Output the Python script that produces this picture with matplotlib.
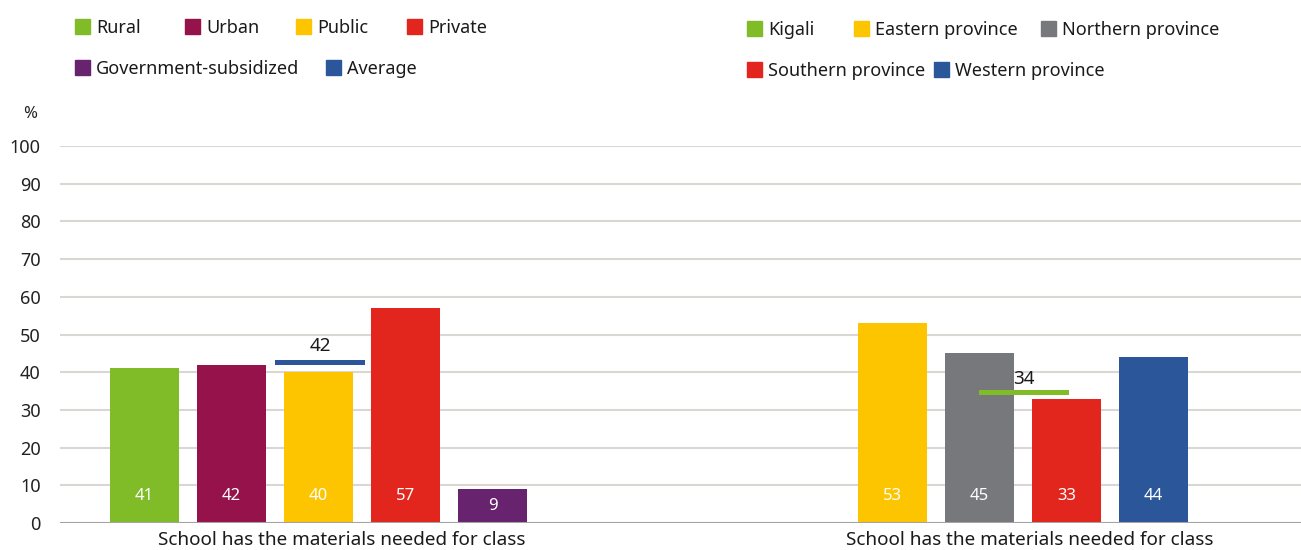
import numpy as np
import matplotlib
matplotlib.use("Agg")
import matplotlib.pyplot as plt
from matplotlib.patches import Rectangle

plt.rcParams['font.family'] = ['Noto Sans', 'DejaVu Sans']

# ---- data ----
left_categories = ['Rural', 'Urban', 'Public', 'Private', 'Government-subsidized']
left_values = [41, 42, 40, 57, 9]
left_average_label = 'Average'
left_average = 42

right_categories = ['Kigali', 'Eastern province', 'Northern province', 'Southern province', 'Western province']
right_values = [np.nan, 53, 45, 33, 44]
right_line_value = 34

group_label = 'School has the materials needed for class'
yticks = [0, 10, 20, 30, 40, 50, 60, 70, 80, 90, 100]

# ---- styles ----
left_colors = ['#80BC28', '#96124A', '#FCC500', '#E2261E', '#68236F']
avg_color = '#2B579A'
right_colors = ['#80BC28', '#FCC500', '#77787B', '#E2261E', '#2B579A']
txt = '#1A1A1A'
fs_leg = 13
fs_lab = 13.6

W, H = 1301, 550
fig = plt.figure(figsize=(W / 100, H / 100), dpi=100)
ax = fig.add_axes([60 / W, (H - 523) / H, (W - 60) / W, (523 - 146) / H])

bw = 69 / 87
left_x = np.arange(5)
right_x = np.arange(5) + 7.6

def bar_labels(xs, vals):
    for x, v in zip(xs, vals):
        if np.isnan(v):
            continue
        y = 7.2 if v > 14 else v / 2
        ax.text(x, y, f'{v:g}', ha='center', va='center', color='white', fontsize=12)

ax.bar(left_x, left_values, width=bw, color=left_colors, zorder=2)
ax.bar(right_x, right_values, width=bw, color=right_colors, zorder=2)
bar_labels(left_x, left_values)
bar_labels(right_x, right_values)

# average / Kigali lines
lw_units = 1.25
lx = 2.02
ax.bar(lx, lw_units, bottom=left_average, width=1.03, color=avg_color, zorder=3)
ax.text(lx, left_average + 5.0, f'{left_average}', ha='center', va='center', fontsize=fs_lab, color=txt)
rx = 10.11
ax.bar(rx, lw_units, bottom=right_line_value, width=1.03, color=right_colors[0], zorder=3)
ax.text(rx, right_line_value + 4.2, f'{right_line_value}', ha='center', va='center', fontsize=fs_lab, color=txt)

ax.set_xlim((60 - 144.5) / 87, (1301 - 144.5) / 87)
ax.set_ylim(0, 100)
ax.set_yticks(yticks)
ax.set_yticklabels([str(t) for t in yticks], fontsize=13, color='#222222')
ax.tick_params(axis='y', length=0, pad=14)
ax.set_xticks([])
for s in ax.spines.values():
    s.set_visible(False)
ax.yaxis.grid(True, color='#DAD6D1', linewidth=1.5, zorder=0)
ax.set_axisbelow(True)
ax.axhline(0, color='#A3A3A3', linewidth=2.2, zorder=4)

# group labels
ax.text((342 - 144.5) / 87, -2.2, group_label, ha='center', va='top', fontsize=fs_lab, color=txt)
ax.text((1030 - 144.5) / 87, -2.2, group_label, ha='center', va='top', fontsize=fs_lab, color=txt)

fig.text(30 / W, 1 - 114 / H, '%', ha='center', va='center', fontsize=12, color='#222222')

# legends (manual)
def legend_item(px, py, color, label):
    fig.patches.append(Rectangle((px / W, 1 - (py + 7.5) / H), 15 / W, 15 / H,
                                 transform=fig.transFigure, color=color, figure=fig))
    fig.text((px + 21) / W, 1 - (py + 7) / H, label, ha='left', va='baseline', fontsize=fs_leg, color=txt)

left_leg_pos = [(75, 26), (185, 26), (296, 26), (407, 26), (75, 67)]
for (px, py), c, lab in zip(left_leg_pos, left_colors, left_categories):
    legend_item(px, py, c, lab)
legend_item(326, 67, avg_color, left_average_label)

right_leg_pos = [(747, 28), (854, 28), (1041, 28), (747, 69), (934, 69)]
for (px, py), c, lab in zip(right_leg_pos, right_colors, right_categories):
    legend_item(px, py, c, lab)

fig.savefig('out.png', dpi=100)
